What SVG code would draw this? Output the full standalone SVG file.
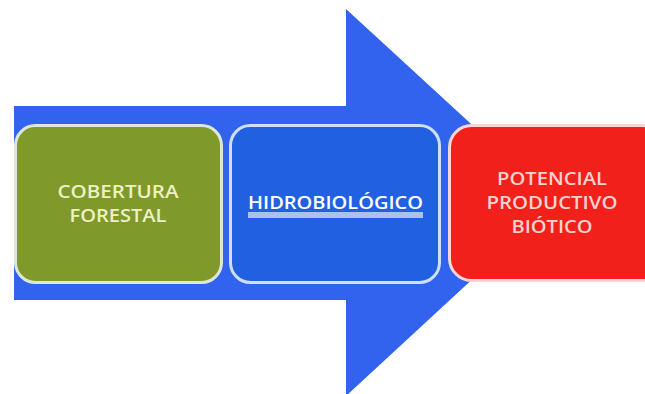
<svg xmlns="http://www.w3.org/2000/svg" width="645" height="394" viewBox="0 0 645 394">
<style>
.box{stroke-width:3}
.t{font-family:"Open Sans","Liberation Sans",sans-serif;font-size:18px;font-weight:600;text-anchor:middle}
</style>
<rect width="645" height="394" fill="#ffffff"/>
<g id="connectors">
<path d="M14,106 H346 V9 L556,202 L346,396 V300 H14 Z" fill="#3163ee"/>
</g>
<g id="node-cobertura">
<rect class="box" x="15.5" y="125.5" width="206" height="157" rx="20" fill="#7f9a2b" stroke="#dfe6d6"/>
<text class="t" x="118" y="198" fill="#eef0c4" textLength="121" lengthAdjust="spacingAndGlyphs">COBERTURA</text>
<text class="t" x="118" y="222" fill="#eef0c4" textLength="97" lengthAdjust="spacingAndGlyphs">FORESTAL</text>
</g>
<g id="node-hidro">
<rect class="box" x="230.5" y="125.5" width="209" height="157" rx="20" fill="#2260e2" stroke="#cfdff6"/>
<rect x="248" y="212" width="175" height="6" fill="#a9c3f0"/>
<text class="t" x="335.5" y="209" fill="#ffffff" textLength="175" lengthAdjust="spacingAndGlyphs">HIDROBIOLÓGICO</text>
</g>
<g id="node-potencial">
<rect class="box" x="449.5" y="125.5" width="215" height="155" rx="22" fill="#f2201a" stroke="#f6d6d6"/>
<text class="t" x="552" y="185" fill="#f6d2d0" textLength="110" lengthAdjust="spacingAndGlyphs">POTENCIAL</text>
<text class="t" x="552" y="209" fill="#f6d2d0" textLength="131" lengthAdjust="spacingAndGlyphs">PRODUCTIVO</text>
<text class="t" x="552" y="233" fill="#f6d2d0" textLength="81" lengthAdjust="spacingAndGlyphs">BIÓTICO</text>
</g>
</svg>
